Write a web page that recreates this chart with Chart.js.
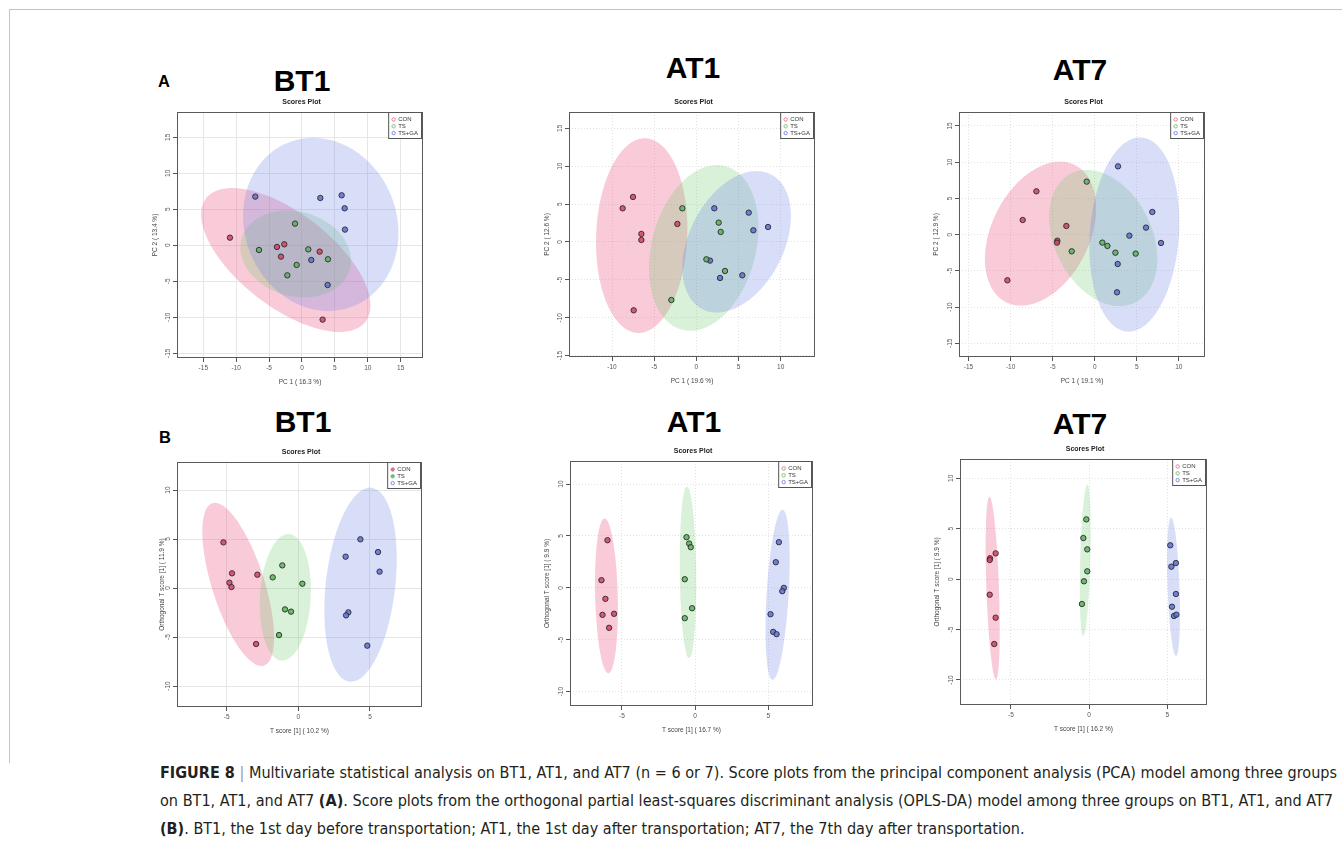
<!DOCTYPE html>
<html><head><meta charset="utf-8">
<script src="https://cdn.jsdelivr.net/npm/chart.js@4.4.1/dist/chart.umd.min.js"></script>
<style>
html,body{margin:0;padding:0;background:#fff;width:1342px;height:849px;overflow:hidden;font-family:'Liberation Sans',Arial,sans-serif}
.frame{position:absolute;left:9px;top:9px;width:1340px;height:753px;border-top:1px solid #c4c4c4;border-left:1px solid #c4c4c4}
.hd{position:absolute;font-weight:bold;font-size:30px;color:#000;line-height:30px;transform:translateX(-50%);white-space:nowrap}
.pl{position:absolute;font-weight:bold;font-size:16.5px;line-height:16.5px;color:#000}
.panel{position:absolute}
.panel canvas{display:block}
.cap{position:absolute;left:160px;white-space:nowrap;font-family:'Liberation Sans Narrow','DejaVu Sans Condensed',sans-serif;font-size:16px;line-height:20px;color:#231f20;transform-origin:0 50%}
.cap .sep{color:#9a9a9a}
</style></head>
<body>
<div class="frame"></div>
<div class="pl" style="left:158px;top:73px">A</div>
<div class="pl" style="left:159px;top:429px">B</div>
<div class="hd" style="left:302px;top:66px">BT1</div>
<div class="hd" style="left:693px;top:53px">AT1</div>
<div class="hd" style="left:1080px;top:55px">AT7</div>
<div class="hd" style="left:303px;top:407px">BT1</div>
<div class="hd" style="left:694px;top:407px">AT1</div>
<div class="hd" style="left:1080px;top:409px">AT7</div>

<div class="cap" id="cap1" style="top:763px"><b>FIGURE 8</b> <span class="sep">|</span> Multivariate statistical analysis on BT1, AT1, and AT7 (n = 6 or 7). Score plots from the principal component analysis (PCA) model among three groups</div>
<div class="cap" id="cap2" style="top:791px">on BT1, AT1, and AT7 <b>(A)</b>. Score plots from the orthogonal partial least-squares discriminant analysis (OPLS-DA) model among three groups on BT1, AT1, and AT7</div>
<div class="cap" id="cap3" style="top:819px"><b>(B)</b>. BT1, the 1st day before transportation; AT1, the 1st day after transportation; AT7, the 7th day after transportation.</div>

<script>
// ---------- DATA ----------
const groups = ['CON', 'TS', 'TS+GA'];

// PCA, BT1
const pcaBT1_CON = [[-10.95,1.06],[-3.80,-0.23],[-2.69,0.14],[-3.19,-1.57],[2.69,-0.88],[3.14,-10.32]];
const pcaBT1_TS  = [[-1.06,3.01],[-6.54,-0.65],[0.96,-0.56],[-0.81,-2.73],[-2.23,-4.17],[3.95,-1.94]];
const pcaBT1_GA  = [[-7.10,6.76],[2.79,6.57],[6.03,6.94],[6.49,5.14],[6.54,2.18],[1.42,-2.04],[3.90,-5.51]];
// confidence ellipses: [centre x, centre y, semi-axis a, semi-axis b, angle of a (deg)]
const pcaBT1_ell = [[-2.46,-2.04,14.85,6.7,-34],[-0.96,-1.20,8.5,5.9,-12],[2.85,2.9,12.5,11.3,-50]];

// PCA, AT1
const pcaAT1_CON = [[-7.51,5.94],[-8.74,4.44],[-2.25,2.38],[-6.52,1.06],[-6.52,0.26],[-7.43,-9.02]];
const pcaAT1_TS  = [[-1.66,4.44],[2.65,2.55],[2.89,1.32],[1.19,-2.29],[3.40,-3.83],[-2.96,-7.66]];
const pcaAT1_GA  = [[2.13,4.44],[6.21,3.87],[6.76,1.54],[8.50,1.98],[1.62,-2.46],[2.81,-4.75],[5.45,-4.40]];
const pcaAT1_ell = [[-6.48,0.84,12.85,5.4,88],[0.87,-0.79,11.1,6.2,78],[4.78,0.02,9.8,5.7,68]];

// PCA, AT7
const pcaAT7_CON = [[-6.93,5.98],[-8.56,2.02],[-3.37,1.20],[-4.44,-0.83],[-4.48,-1.10],[-10.38,-6.30]];
const pcaAT7_TS  = [[-0.95,7.32],[-2.73,-2.30],[0.91,-1.10],[1.51,-1.56],[2.46,-2.49],[4.87,-2.62]];
const pcaAT7_GA  = [[2.77,9.43],[6.85,3.13],[6.10,0.97],[4.12,-0.14],[7.88,-1.15],[2.73,-4.05],[2.65,-7.96]];
const pcaAT7_ell = [[-6.44,0.14,10.35,5.94,70],[1.01,-0.46,9.73,5.92,-71],[4.71,0.02,13.43,5.3,86.6]];

// OPLS-DA, BT1
const oplsBT1_CON = [[-5.23,4.66],[-4.63,1.50],[-4.81,0.54],[-4.67,0.10],[-2.86,1.36],[-2.95,-5.71]];
const oplsBT1_TS  = [[-1.12,2.31],[-1.79,1.09],[0.28,0.44],[-0.93,-2.18],[-0.51,-2.41],[-1.35,-4.80]];
const oplsBT1_GA  = [[4.33,4.97],[5.56,3.67],[3.30,3.20],[5.67,1.67],[3.49,-2.48],[3.33,-2.79],[4.81,-5.88]];
const oplsBT1_ell = [[-4.20,0.37,8.49,1.87,-78.4],[-0.91,-0.95,6.46,1.77,88],[4.34,0.34,9.92,2.43,85.9]];

// OPLS-DA, AT1
const oplsAT1_CON = [[-5.99,4.59],[-6.40,0.74],[-6.13,-1.06],[-6.33,-2.60],[-5.54,-2.50],[-5.88,-3.85]];
const oplsAT1_TS  = [[-0.59,4.88],[-0.41,4.27],[-0.30,3.92],[-0.71,0.83],[-0.21,-1.96],[-0.71,-2.92]];
const oplsAT1_GA  = [[5.72,4.40],[5.51,2.47],[6.06,0.00],[5.95,-0.32],[5.15,-2.54],[5.33,-4.24],[5.56,-4.46]];
const oplsAT1_ell = [[-6.06,-0.77,7.45,0.77,91],[-0.49,1.49,8.27,0.56,90.5],[5.63,-0.67,8.19,0.75,87.6]];

// OPLS-DA, AT7
const oplsAT7_CON = [[-5.98,2.56],[-6.34,2.07],[-6.36,1.90],[-6.36,-1.54],[-5.98,-3.82],[-6.07,-6.43]];
const oplsAT7_TS  = [[-0.18,5.93],[-0.37,4.08],[-0.12,2.96],[-0.12,0.78],[-0.33,-0.21],[-0.46,-2.46]];
const oplsAT7_GA  = [[5.19,3.36],[5.26,1.24],[5.55,1.60],[5.55,-1.47],[5.30,-2.73],[5.43,-3.65],[5.58,-3.52]];
const oplsAT7_ell = [[-6.17,-0.88,9.06,0.4,91.3],[-0.25,1.88,7.52,0.32,89],[5.40,-0.76,6.86,0.38,91.3]];

// tick labels
const ticksPcaBT1 = [-15,-10,-5,0,5,10,15];
const ticksPcaAT1X = [-10,-5,0,5,10];
const ticksPcaAT7X = [-15,-10,-5,0,5,10];
const ticksPcaY = [-15,-10,-5,0,5,10,15];
const ticksOplsX = [-5,0,5];
const ticksOplsY = [-10,-5,0,5,10];

// axis titles
const xTitles = ['PC 1 ( 16.3 %)','PC 1 ( 19.6 %)','PC 1 ( 19.1 %)','T score [1] ( 10.2 %)','T score [1] ( 16.7 %)','T score [1] ( 16.2 %)'];
const yTitles = ['PC 2 ( 13.4 %)','PC 2 ( 12.6 %)','PC 2 ( 12.9 %)','Orthogonal T score [1] ( 11.9 %)','Orthogonal T score [1] ( 9.9 %)','Orthogonal T score [1] ( 9.9 %)'];

// axis ranges
const xRanges = [[-19.0,18.4],[-15.10,14.07],[-16.13,13.11],[-8.47,8.63],[-8.55,8.05],[-8.26,7.54]];
const yRanges = [[-15.65,18.51],[-15.18,17.15],[-16.89,16.93],[-12.14,12.86],[-11.38,12.22],[-12.48,11.92]];

// ---------- STYLE / LAYOUT ----------
const pointFill = ['rgba(212,66,102,0.85)','rgba(92,178,92,0.85)','rgba(92,112,214,0.85)'];
const ellFill = ['rgba(235,90,130,0.32)','rgba(110,200,110,0.26)','rgba(110,130,230,0.27)'];
const legendStroke = ['#e0708f','#6cc06c','#7286dc'];
const FONT = "'Liberation Sans', Arial, sans-serif";

const panels = [
  {box:[177,112,423,358], series:[pcaBT1_CON,pcaBT1_TS,pcaBT1_GA], ell:pcaBT1_ell, xt:ticksPcaBT1, yt:ticksPcaBT1, dash:[], ytOff:22, legendFill:false},
  {box:[569,112,815,357], series:[pcaAT1_CON,pcaAT1_TS,pcaAT1_GA], ell:pcaAT1_ell, xt:ticksPcaAT1X, yt:ticksPcaY, dash:[1,2], ytOff:22, legendFill:false},
  {box:[959,112,1205,357], series:[pcaAT7_CON,pcaAT7_TS,pcaAT7_GA], ell:pcaAT7_ell, xt:ticksPcaAT7X, yt:ticksPcaY, dash:[1,2], ytOff:22.5, legendFill:false},
  {box:[177,462,422,707], series:[oplsBT1_CON,oplsBT1_TS,oplsBT1_GA], ell:oplsBT1_ell, xt:ticksOplsX, yt:ticksOplsY, dash:[], ytOff:14.5, legendFill:true},
  {box:[570,461,813,706], series:[oplsAT1_CON,oplsAT1_TS,oplsAT1_GA], ell:oplsAT1_ell, xt:ticksOplsX, yt:ticksOplsY, dash:[1,2], ytOff:22.5, legendFill:false},
  {box:[960,459,1207,705], series:[oplsAT7_CON,oplsAT7_TS,oplsAT7_GA], ell:oplsAT7_ell, xt:ticksOplsX, yt:ticksOplsY, dash:[1,2], ytOff:23, legendFill:false}
];

const ellipsePlugin = {
  id:'ellipses',
  beforeDatasetsDraw(chart, args, opts){
    const {ctx, chartArea:a, scales:{x, y}} = chart;
    ctx.save();
    ctx.beginPath(); ctx.rect(a.left, a.top, a.right-a.left, a.bottom-a.top); ctx.clip();
    (opts.list||[]).forEach((e, k) => {
      const [cx, cy, ra, rb, th] = e;
      const t = th*Math.PI/180, c = Math.cos(t), s = Math.sin(t);
      ctx.beginPath();
      for (let i=0;i<=180;i++){
        const u = i/180*2*Math.PI;
        const dx = ra*Math.cos(u), dy = rb*Math.sin(u);
        const px = x.getPixelForValue(cx + dx*c - dy*s);
        const py = y.getPixelForValue(cy + dx*s + dy*c);
        if (i) ctx.lineTo(px, py); else ctx.moveTo(px, py);
      }
      ctx.closePath();
      ctx.fillStyle = ellFill[k];
      ctx.fill();
    });
    ctx.restore();
  }
};

const framePlugin = {
  id:'frame',
  afterDraw(chart, args, opts){
    const {ctx, chartArea:a, scales:{y}} = chart;
    ctx.save();
    // box
    ctx.strokeStyle = '#5a5a5a'; ctx.lineWidth = 1;
    ctx.strokeRect(Math.round(a.left)+0.5, Math.round(a.top)+0.5, Math.round(a.right-a.left)-1, Math.round(a.bottom-a.top)-1);
    // y tick labels (rotated, R style)
    ctx.fillStyle = '#555'; ctx.font = '6.5px ' + FONT;
    ctx.textAlign = 'center'; ctx.textBaseline = 'middle';
    y.ticks.forEach(t => {
      const py = y.getPixelForValue(t.value);
      ctx.save(); ctx.translate(a.left - 9, py); ctx.rotate(-Math.PI/2);
      ctx.fillText(String(t.value), 0, 0); ctx.restore();
    });
    // axis titles
    ctx.fillStyle = '#444'; ctx.font = '6.5px ' + FONT;
    ctx.fillText(opts.xTitle, (a.left+a.right)/2, a.bottom + 24.5);
    ctx.save(); ctx.translate(a.left - opts.ytOff, (a.top+a.bottom)/2); ctx.rotate(-Math.PI/2);
    ctx.fillText(opts.yTitle, 0, 0); ctx.restore();
    // plot title
    ctx.fillStyle = '#222'; ctx.font = 'bold 7px ' + FONT;
    ctx.fillText('Scores Plot', (a.left+a.right)/2 + 1.5, a.top - 9.5);
    // legend
    ctx.font = '6px ' + FONT;
    const names = chart.data.datasets.map(d => d.label);
    const tw = Math.max(...names.map(n => ctx.measureText(n).width));
    const right = Math.round(a.right) - 1.5, w = 10 + tw + 3, left = right - w;
    const top = Math.round(a.top) + 0.5, h = 26;
    ctx.fillStyle = '#fff'; ctx.fillRect(left, top, w, h);
    ctx.strokeStyle = '#555'; ctx.strokeRect(left, top, w, h);
    ctx.textAlign = 'left';
    names.forEach((n, i) => {
      const ry = top + 7 + i*6.8;
      ctx.beginPath(); ctx.arc(left + 5, ry, 1.7, 0, 2*Math.PI);
      if (opts.legendFill && i < 2) { ctx.fillStyle = legendStroke[i]; ctx.fill(); }
      ctx.strokeStyle = legendStroke[i]; ctx.lineWidth = 0.9; ctx.stroke();
      ctx.fillStyle = '#333'; ctx.fillText(n, left + 9.5, ry + 0.3);
    });
    ctx.restore();
  }
};

function makePanel(p, idx){
  const L = 50, T = 26, R = 10, B = 36;
  const w = p.box[2]-p.box[0], h = p.box[3]-p.box[1];
  const div = document.createElement('div');
  div.className = 'panel';
  div.style.left = (p.box[0]-L) + 'px';
  div.style.top = (p.box[1]-T) + 'px';
  const cv = document.createElement('canvas');
  cv.width = w+L+R; cv.height = h+T+B;
  cv.style.width = (w+L+R)+'px'; cv.style.height = (h+T+B)+'px';
  div.appendChild(cv); document.body.appendChild(div);
  const gridCol = p.dash.length ? '#e2e2e2' : '#e6e6e6';
  new Chart(cv, {
    type:'scatter',
    data:{ datasets: p.series.map((pts, i) => ({
      label: groups[i],
      data: pts.map(([x, y]) => ({x, y})),
      backgroundColor: pointFill[i], borderColor:'#2a2a2a', borderWidth:0.9,
      pointRadius:2.7, pointHoverRadius:2.7
    }))},
    options:{
      responsive:false, animation:false, devicePixelRatio:1, events:[],
      layout:{ padding:{left:0, top:T, right:R, bottom:0}, autoPadding:false },
      plugins:{
        legend:{display:false}, tooltip:{enabled:false},
        ellipses:{ list:p.ell },
        frame:{ xTitle:xTitles[idx], yTitle:yTitles[idx], ytOff:p.ytOff, legendFill:p.legendFill }
      },
      scales:{
        x:{ type:'linear', position:'bottom', min:xRanges[idx][0], max:xRanges[idx][1],
            afterBuildTicks: s => { s.ticks = p.xt.map(v => ({value:v})); },
            afterFit: s => { s.height = B; },
            grid:{ color:gridCol, lineWidth:1, tickColor:'#555', tickLength:4, drawTicks:true },
            border:{ display:false, dash:p.dash },
            ticks:{ font:{size:6.5, family:FONT}, color:'#555', padding:2.5, maxRotation:0, minRotation:0, autoSkip:false } },
        y:{ type:'linear', position:'left', min:yRanges[idx][0], max:yRanges[idx][1],
            afterBuildTicks: s => { s.ticks = p.yt.map(v => ({value:v})); },
            afterFit: s => { s.width = L; },
            grid:{ color:gridCol, lineWidth:1, tickColor:'#555', tickLength:4, drawTicks:true },
            border:{ display:false, dash:p.dash },
            ticks:{ display:false } }
      }
    },
    plugins:[ellipsePlugin, framePlugin]
  });
}
panels.forEach(makePanel);

// fit caption lines to the reference widths
(function(){
  const c1 = document.getElementById('cap1'), c2 = document.getElementById('cap2'), c3 = document.getElementById('cap3');
  const s1 = 1177 / c1.getBoundingClientRect().width;
  const s2 = 1173 / c2.getBoundingClientRect().width;
  c1.style.transform = 'scaleX(' + s1 + ')';
  c2.style.transform = 'scaleX(' + s2 + ')';
  c3.style.transform = 'scaleX(' + s1 + ')';
})();
</script>
</body></html>
